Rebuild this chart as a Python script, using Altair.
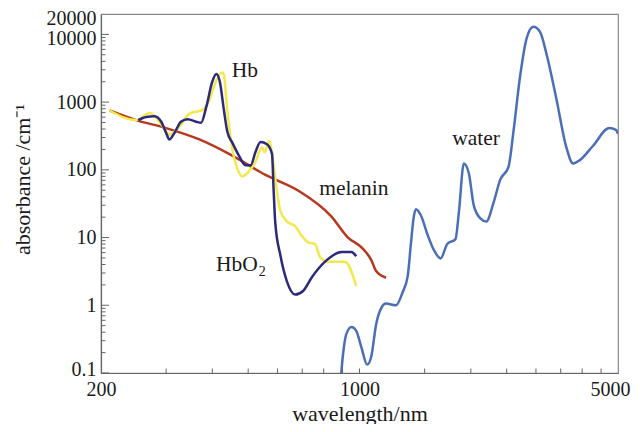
import altair as alt
import pandas as pd

# ---- data (wavelength in nm, absorbance in 1/cm) ----
melanin_wl = [211, 249, 300, 369, 453, 557, 684, 840, 931, 1011, 1076, 1109, 1180]
melanin_ab = [752, 542, 413, 281, 162, 84, 49, 20.4, 10, 7.2, 4.65, 3.2, 2.55]

hb_wl = [211, 249, 271, 294, 306, 326, 347, 376, 392, 409, 426, 430, 439, 453, 467,
         482, 497, 523, 545, 554, 570, 586, 598, 610, 636, 670, 698, 727, 758, 782,
         823, 913, 980]
hb_ab = [752, 542, 688, 435, 331, 435, 675, 769, 1044, 2013, 2731, 2507, 752, 202, 105,
         80, 89, 131, 214, 182, 266, 117, 48.9, 25.4, 17.3, 14.7, 10.6, 8.48, 8.04, 5.18,
         4.40, 4.40, 1.94]

hbo2_wl = [252, 265, 279, 291, 300, 306, 316, 329, 343, 362, 373, 385, 400, 410, 419,
           430, 439, 453, 472, 492, 508, 523, 540, 562, 580, 586, 592, 611, 636, 670,
           705, 742, 807, 894, 951, 980]
hbo2_ab = [542, 604, 618, 513, 350, 281, 350, 513, 560, 513, 496, 838, 2013, 2593, 2013,
           752, 369, 252, 162, 117, 117, 182, 257, 239, 172, 48.9, 16.3, 5.48, 2.28, 1.44,
           1.64, 2.55, 4.40, 6.1, 6.1, 5.3]

water_wl = [889, 903, 921, 951, 980, 1011, 1049, 1076, 1109, 1144, 1180, 1255, 1308, 1350,
            1377, 1400, 1420, 1464, 1526, 1591, 1657, 1727, 1818, 1857, 1915, 1975, 2037,
            2122, 2202, 2306, 2402, 2529, 2608, 2717, 2832, 2952, 3075, 3205, 3408, 3626,
            3779, 3936, 4276, 4737, 4937, 5000]
water_ab = [0.077, 0.194, 0.375, 0.479, 0.42, 0.243, 0.133, 0.175, 0.521, 0.90, 1.06, 1.0,
            1.56, 2.69, 8.04, 19.2, 26.2, 21.5, 11.2, 6.45, 4.92, 8.04, 9.48, 24.0, 124, 89,
            29.9, 19.2, 17.3, 33.3, 71.6, 111, 369, 2372, 8810, 12940, 10990, 5093, 1104,
            214, 124, 138, 225, 413, 390, 340]

label_text = ["Hb", "water", "melanin"]
label_wl = [490, 2066, 966]
label_ab = [2888, 281, 52.7]

hbo_label_wl = [531]
hbo_label_ab = [3.24]

x_label_values = [200, 1000, 5000]
x_tick_values = [300, 400, 500, 600, 700, 800, 900, 1000, 1500, 2000, 2500, 3000, 3500,
                 4000, 4500]
y_label_values = [0.1, 1, 10, 100, 1000, 10000, 20000]
y_major_ticks = [0.1, 1, 10, 100, 1000, 10000]
y_minor_ticks = [0.2, 0.3, 0.4, 0.5, 0.6, 0.7, 0.8, 0.9,
                 2, 3, 4, 5, 6, 7, 8, 9,
                 20, 30, 40, 50, 60, 70, 80, 90,
                 200, 300, 400, 500, 600, 700, 800, 900,
                 2000, 3000, 4000, 5000, 6000, 7000, 8000, 9000]

# ---- styling ----
W, H = 517, 359
FONT = "Liberation Serif"
TXT = "#1a1a1a"
AX = "#666666"

xscale = alt.Scale(type="log", domain=[200, 5000], nice=False)
yscale = alt.Scale(type="log", domain=[0.1, 20000], nice=False)

xaxis = alt.Axis(values=x_label_values, format="d", ticks=False, grid=False,
                 domainColor=AX, domainWidth=1.2, labelFont=FONT, labelFontSize=20,
                 labelColor=TXT, labelPadding=6, labelFlush=False, labelOverlap=False,
                 labelOffset={"condition": {"test": "datum.value == 5000", "value": -8},
                              "value": 0},
                 title="wavelength/nm", titleFont=FONT, titleFontSize=22,
                 titleFontWeight="normal", titleColor=TXT, titleBaseline="alphabetic",
                 titleY=47)
yaxis = alt.Axis(values=y_label_values, format="~g", ticks=False, grid=False,
                 domainColor=AX, domainWidth=1.2, labelFont=FONT, labelFontSize=20,
                 labelColor=TXT, labelPadding=5, labelFlush=False, labelOverlap=False,
                 labelOffset={"condition": [{"test": "datum.value == 20000", "value": 4},
                                            {"test": "datum.value == 10000", "value": 4},
                                            {"test": "datum.value == 0.1", "value": -4}],
                              "value": 0},
                 title="absorbance /cm⁻¹", titleFont=FONT, titleFontSize=22,
                 titleFontWeight="normal", titleColor=TXT, titleBaseline="alphabetic",
                 titleX=-72, titleY=165)

X = alt.X("wl:Q", scale=xscale, axis=xaxis)
Y = alt.Y("ab:Q", scale=yscale, axis=yaxis)


def line_layer(wl, ab, color):
    df = pd.DataFrame({"wl": wl, "ab": ab})
    return alt.Chart(df).mark_line(color=color, strokeWidth=2.5,
                                   interpolate="monotone", clip=True).encode(x=X, y=Y)


melanin = line_layer(melanin_wl, melanin_ab, "#b5381f")
hb = line_layer(hb_wl, hb_ab, "#f3e84c")
hbo2 = line_layer(hbo2_wl, hbo2_ab, "#2c2a7a")
water = line_layer(water_wl, water_ab, "#4a6fb6")

# inward axis ticks
ymaj = alt.Chart(pd.DataFrame({"ab": y_major_ticks})).mark_rule(color=AX, strokeWidth=1).encode(
    y=Y, x=alt.value(0), x2=alt.value(8))
ymin = alt.Chart(pd.DataFrame({"ab": y_minor_ticks})).mark_rule(color=AX, strokeWidth=1).encode(
    y=Y, x=alt.value(0), x2=alt.value(4.5))
xt = alt.Chart(pd.DataFrame({"wl": x_tick_values})).mark_rule(color=AX, strokeWidth=1).encode(
    x=X, y=alt.value(H), y2=alt.value(H - 4.5))

# curve labels
lab_df = pd.DataFrame({"t": label_text, "wl": label_wl, "ab": label_ab})
labels = alt.Chart(lab_df).mark_text(font=FONT, fontSize=21.5, color=TXT,
                                     align="center", baseline="middle").encode(
    x=X, y=Y, text="t:N")

hbo_df = pd.DataFrame({"wl": hbo_label_wl, "ab": hbo_label_ab})
hbo_main = alt.Chart(hbo_df).mark_text(font=FONT, fontSize=21.5, color=TXT, align="right",
                                       baseline="alphabetic", text="HbO").encode(x=X, y=Y)
hbo_sub = alt.Chart(hbo_df).mark_text(font=FONT, fontSize=14, color=TXT, align="left",
                                      baseline="alphabetic", dx=1, dy=5, text="2").encode(x=X, y=Y)

chart = alt.layer(melanin, hb, hbo2, water, ymaj, ymin, xt, labels, hbo_main, hbo_sub).properties(
    width=W, height=H,
    autosize=alt.AutoSizeParams(type="none"),
    padding={"left": 93, "top": 6, "right": 14, "bottom": 51},
).configure_view(stroke="#888888", strokeWidth=1.2)

chart.save("out.html", embed_options={"renderer": "svg", "actions": False})
